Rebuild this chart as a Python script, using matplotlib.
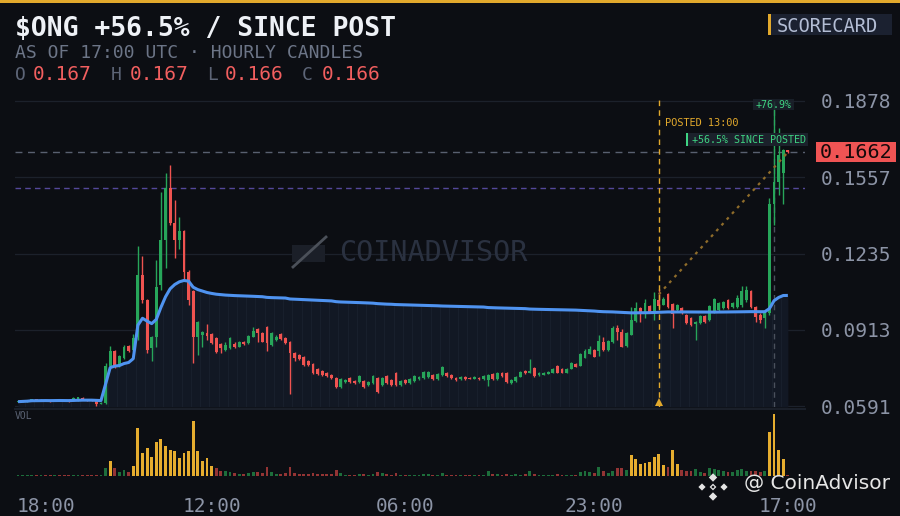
import numpy as np
import matplotlib.pyplot as plt
from matplotlib.patches import Rectangle, Polygon
from matplotlib import transforms

plt.rcParams['font.family'] = ['DejaVu Sans Mono']

# ---- data (hourly candles, index 0 = 18:00, last = 17:00) ----
ticker = "$ONG"
hour_labels = ["18:00", "12:00", "06:00", "23:00", "17:00"]
hour_ticks = [0, 42, 84, 125, 167]
price_labels = ["0.0591", "0.0913", "0.1235", "0.1557", "0.1878"]
post_idx = 139
post_time = "13:00"
post_price = 0.10618

opens = [
    .0608, .0610, .0612, .0613, .0619, .0614, .0617, .0613, .0611, .0618,
    .0614, .0613, .0611, .0617, .0624, .0619, .0616, .0613, .0600, .0605,
    .0758, .0821, .0760, .0794, .0845, .0828, .0883, .1144, .1039, .0836,
    .0883, .1100, .1292, .1510, .1362, .1292, .1330, .1158, .1077, .0884,
    .0890, .0901, .0895, .0878, .0853, .0828, .0836, .0853, .0840, .0862,
    .0855, .0884, .0916, .0899, .0926, .0849, .0868, .0895, .0878, .0862,
    .0815, .0807, .0798, .0781, .0769, .0748, .0739, .0731, .0722, .0710,
    .0672, .0693, .0710, .0697, .0693, .0697, .0680, .0689, .0710, .0680,
    .0718, .0701, .0731, .0680, .0701, .0689, .0697, .0705, .0710, .0714,
    .0722, .0705, .0722, .0731, .0722, .0710, .0705, .0714, .0710, .0705,
    .0710, .0705, .0701, .0727, .0705, .0731, .0731, .0689, .0697, .0714,
    .0739, .0731, .0752, .0722, .0722, .0727, .0731, .0760, .0748, .0731,
    .0748, .0769, .0760, .0794, .0811, .0828, .0824, .0860, .0826, .0862,
    .0921, .0905, .0845, .0891, .0950, .1005, .0984, .1013, .0988, .1039,
    .1018, .1064, .1022, .0997, .1005, .0976, .0963, .0937, .0942, .0971,
    .0954, .0988, .0997, .1005, .1039, .1009, .1009, .1018, .1039, .1077,
    .1009, .0976, .0963, .0984, .1444, .1536, .1574, .1670]
highs = [
    .0612, .0614, .0616, .0621, .0620, .0619, .0618, .0616, .0620, .0621,
    .0616, .0615, .0627, .0630, .0627, .0622, .0618, .0615, .0606, .0773,
    .0845, .0828, .0805, .0848, .0847, .0895, .1266, .1222, .1043, .0887,
    .1207, .1495, .1573, .1608, .1460, .1390, .1334, .1165, .1081, .0950,
    .0909, .0937, .0899, .0882, .0857, .0863, .0882, .0862, .0866, .0866,
    .0891, .0923, .0921, .0903, .0928, .0905, .0890, .0899, .0882, .0866,
    .0819, .0811, .0802, .0786, .0773, .0752, .0743, .0735, .0727, .0714,
    .0710, .0705, .0714, .0701, .0722, .0701, .0697, .0722, .0714, .0714,
    .0722, .0705, .0735, .0701, .0705, .0710, .0722, .0718, .0739, .0739,
    .0727, .0731, .0760, .0735, .0727, .0714, .0718, .0718, .0712, .0716,
    .0714, .0722, .0725, .0729, .0735, .0733, .0733, .0703, .0716, .0737,
    .0741, .0790, .0754, .0733, .0733, .0737, .0750, .0762, .0750, .0750,
    .0775, .0771, .0813, .0832, .0845, .0830, .0891, .0882, .0870, .0929,
    .0933, .0916, .0903, .1009, .1030, .1009, .1043, .1018, .1070, .1084,
    .1053, .1067, .1025, .1022, .1009, .0980, .0967, .0950, .0976, .0976,
    .1018, .1047, .1030, .1034, .1043, .1030, .1060, .1098, .1098, .1081,
    .1013, .0984, .0997, .1469, .1878, .1764, .1675, .1672]
lows = [
    .0606, .0608, .0609, .0611, .0612, .0612, .0611, .0609, .0610, .0612,
    .0610, .0609, .0610, .0614, .0615, .0612, .0611, .0591, .0598, .0600,
    .0752, .0752, .0756, .0790, .0819, .0824, .0870, .1026, .0815, .0781,
    .0842, .1081, .1172, .1355, .1215, .1254, .1127, .1018, .0773, .0807,
    .0839, .0868, .0853, .0815, .0815, .0824, .0832, .0836, .0838, .0849,
    .0851, .0882, .0863, .0859, .0825, .0845, .0866, .0870, .0853, .0642,
    .0781, .0786, .0760, .0760, .0727, .0722, .0718, .0714, .0705, .0668,
    .0668, .0689, .0689, .0685, .0689, .0668, .0676, .0685, .0646, .0676,
    .0685, .0676, .0676, .0676, .0685, .0685, .0693, .0701, .0705, .0710,
    .0701, .0701, .0718, .0714, .0705, .0697, .0701, .0701, .0703, .0703,
    .0701, .0701, .0676, .0701, .0701, .0714, .0689, .0685, .0693, .0712,
    .0727, .0729, .0714, .0718, .0720, .0725, .0729, .0729, .0729, .0729,
    .0746, .0754, .0758, .0792, .0809, .0796, .0802, .0824, .0824, .0857,
    .0870, .0838, .0842, .0889, .0946, .0946, .0963, .0984, .0954, .1005,
    .1016, .1004, .0919, .0992, .0978, .0938, .0929, .0870, .0938, .0942,
    .0950, .0984, .0992, .1001, .1001, .1005, .1005, .1009, .1030, .1005,
    .0946, .0942, .0921, .0976, .1355, .1482, .1444, .1660]
closes = [
    .0610, .0612, .0614, .0619, .0614, .0617, .0613, .0611, .0618, .0614,
    .0612, .0611, .0623, .0627, .0617, .0614, .0613, .0600, .0604, .0758,
    .0821, .0760, .0802, .0840, .0824, .0878, .1144, .1039, .0828, .0883,
    .1093, .1292, .1511, .1362, .1292, .1330, .1158, .1039, .0884, .0947,
    .0905, .0887, .0857, .0819, .0836, .0849, .0878, .0840, .0862, .0851,
    .0887, .0909, .0899, .0863, .0856, .0901, .0884, .0874, .0857, .0815,
    .0794, .0790, .0765, .0765, .0731, .0727, .0722, .0718, .0710, .0672,
    .0705, .0701, .0693, .0689, .0718, .0672, .0693, .0718, .0651, .0710,
    .0689, .0680, .0680, .0697, .0689, .0705, .0718, .0714, .0735, .0735,
    .0705, .0727, .0756, .0718, .0710, .0701, .0714, .0705, .0706, .0714,
    .0703, .0718, .0722, .0705, .0731, .0718, .0693, .0701, .0714, .0735,
    .0731, .0739, .0718, .0731, .0731, .0735, .0748, .0731, .0731, .0748,
    .0773, .0756, .0811, .0821, .0830, .0798, .0866, .0826, .0866, .0921,
    .0905, .0842, .0901, .0954, .1005, .0984, .1026, .0988, .1043, .1011,
    .1043, .1010, .0980, .1018, .0984, .0942, .0933, .0946, .0971, .0946,
    .1013, .1043, .1026, .1030, .1005, .1026, .1047, .1077, .1081, .1009,
    .0967, .0954, .0984, .1444, .1536, .1650, .1670, .1662]
volumes = [
    0.4, 0.3, 0.5, 0.6, 0.4, 0.3, 0.5, 0.4, 0.6, 0.4,
    0.3, 0.5, 0.7, 0.6, 0.4, 0.5, 0.4, 0.6, 0.5, 24,
    43, 22, 10, 16, 10, 29, 142, 67, 82, 55,
    100, 109, 88, 76, 73, 52, 67, 73, 163, 73,
    43, 52, 29, 22, 13, 13, 10, 7, 5, 5,
    7, 10, 10, 7, 25, 10, 5, 5, 7, 25,
    7, 5, 5, 5, 7, 5, 5, 5, 5, 16,
    7, 3, 3, 3, 5, 5, 3, 5, 10, 7,
    5, 3, 7, 3, 3, 3, 3, 3, 5, 5,
    3, 3, 7, 3, 3, 3, 3, 3, 3, 3,
    3, 3, 14, 5, 4, 3, 4, 3, 4, 3,
    4, 14, 5, 3, 3, 3, 3, 5, 3, 3,
    3, 3, 10, 14, 10, 9, 25, 14, 7, 13,
    23, 22, 16, 61, 49, 36, 39, 42, 55, 66,
    31, 26, 77, 36, 16, 13, 14, 19, 10, 7,
    22, 19, 16, 14, 10, 10, 16, 19, 14, 14,
    14, 10, 14, 131, 184, 77, 50, 2]

# ---- colours ----
BG = '#0c0e13'
FILL = '#121824'
GRID = '#1c212b'
UP = '#27a65a'
DOWN = '#ef5350'
VUP = '#1d6e3b'
VDOWN = '#943434'
VHOT = '#e6ad2f'
BLUE = '#4f93f0'
GOLD = '#e2a92c'
LABEL = '#8c94a6'
TEXTGREEN = '#3fd483'

o = np.array(opens)
h = np.array(highs)
l = np.array(lows)
c = np.array(closes)
v = np.array(volumes, dtype=float)
x = np.arange(len(c))
up = c >= o

W, H = 900, 516
fig = plt.figure(figsize=(9, 5.16), dpi=100, facecolor=BG)


def add_ax(x0, y0, x1, y1):
    a = fig.add_axes([x0 / W, 1 - y1 / H, (x1 - x0) / W, (y1 - y0) / H])
    a.set_facecolor(BG)
    for s in a.spines.values():
        s.set_visible(False)
    return a


def ftext(px, py, s, **kw):
    return fig.text(px / W, 1 - py / H, s, **kw)


def frect(x0, y0, x1, y1, color, **kw):
    r = Rectangle((x0 / W, 1 - y1 / H), (x1 - x0) / W, (y1 - y0) / H,
                  transform=fig.transFigure, color=color, lw=0, **kw)
    fig.add_artist(r)
    return r


def diamond(cx, cy, r, color):
    pts = [(cx, cy - r), (cx + r, cy), (cx, cy + r), (cx - r, cy)]
    pts = [(px / W, 1 - py / H) for px, py in pts]
    fig.add_artist(Polygon(pts, closed=True, transform=fig.transFigure,
                           color=color, lw=0))


lo, hi = l.min(), h.max()
ppx = 305 / (hi - lo)          # pixels per price unit
step = 4.61                    # pixels per candle
xl = (-3 / step, (805 - 18) / step)

ax = add_ax(15, 93, 805, 407)
axv = add_ax(15, 410, 805, 475.5)
ax.set_xlim(*xl)
ax.set_ylim(lo - 1 / ppx, hi + 8 / ppx)
axv.set_xlim(*xl)
axv.set_ylim(0, v.max() * 65.5 / 61.3)
ybot = lo - 1 / ppx

# ---- price panel ----
for t in np.linspace(lo, hi, 5):
    ax.axhline(t, color=GRID, lw=0.9, zorder=0.5)

tp = (h + l + c) / 3
vwap = np.cumsum(tp * v) / np.cumsum(v)
poly = ax.fill_between(x, vwap, ybot, color=FILL, lw=0, zorder=1)
vg = ax.vlines(x[1::2] + 0.5, ybot, hi, color='#19202d', lw=0.7, zorder=1.1)
vg.set_clip_path(poly.get_paths()[0], ax.transData)

prev_high = c[:post_idx].max()
ax.axhline(prev_high, color='#54489a', lw=1, ls=(0, (4, 3)), zorder=1.2)
ax.axhline(c[-1], color='#596070', lw=1, ls=(0, (5, 4)), zorder=1.2)

cols = np.where(up, UP, DOWN)
ax.vlines(x, l, h, colors=cols, lw=1.0, zorder=2)
ax.bar(x, np.maximum(np.abs(c - o), 0.45 / ppx), bottom=np.minimum(o, c),
       width=0.62, color=cols, lw=0, zorder=2.1)

ax.plot(x, vwap, color=BLUE, lw=2.2, zorder=4, solid_capstyle='butt')

# posted marker
ax.vlines(post_idx, ybot, hi + 1 / ppx, color=GOLD, lw=1, ls=(0, (4, 3)), zorder=3)
ax.plot(post_idx, lo + 4 / ppx, marker='^', color=GOLD, ms=6, mew=0, zorder=5,
        clip_on=False)
ax.plot([post_idx, x[-1]], [post_price, c[-1]], color='#8f6c2a', lw=1.6,
        ls=(0, (1.3, 2.2)), zorder=3)

peak = int(np.argmax(h))
ax.vlines(peak, ybot, h[peak], color='#4a505c', lw=1, ls=(0, (4, 3)), zorder=1.5)

ax.yaxis.tick_right()
ax.set_yticks(np.linspace(lo, hi, 5))
ax.set_yticklabels(price_labels)
ax.tick_params(axis='y', length=0, pad=11, labelsize=14, labelcolor=LABEL)
ax.tick_params(axis='x', bottom=False, labelbottom=False)


def data_px(xd, yd):
    dx, dy = ax.transData.transform((xd, yd))
    return dx, H - dy


# peak label
px, py = data_px(peak, hi)
peak_pct = (hi / post_price - 1) * 100
frect(px - 21, py - 2, px + 20, py + 9.5, '#1b212b', alpha=0.85, zorder=0.5)
ftext(px - 0.5, py + 4, f"+{peak_pct:.1f}%", fontsize=7.2, color=TEXTGREEN,
      ha='center', va='center')

# posted labels
qx, _ = data_px(post_idx, hi)
ftext(qx + 6, py + 22, f"POSTED {post_time}", fontsize=7.4, color=GOLD,
      ha='left', va='center')
pct = (c[-1] / post_price - 1) * 100
frect(qx + 27, py + 32, qx + 149, py + 45, '#1b212b')
frect(qx + 27, py + 32, qx + 29.5, py + 45, TEXTGREEN)
ftext(qx + 33, py + 38.7, f"+{pct:.1f}% SINCE POSTED", fontsize=7.2,
      color=TEXTGREEN, ha='left', va='center')

# current price tag
_, cy = data_px(0, c[-1])
frect(816, cy - 10, 896, cy + 10, '#f05454')
ftext(856, cy + 0.5, f"{c[-1]:.4f}", fontsize=14.5, color='#15090a',
      ha='center', va='center')

# ---- volume panel ----
vcols = np.where(v >= 27, VHOT, np.where(up, VUP, VDOWN))
axv.bar(x, np.maximum(v, 2.2), width=0.62, color=vcols, lw=0)
axv.set_xticks([])
axv.set_yticks([])
ftext(15, 416, "VOL", fontsize=7, color='#5c6475', va='center')
fig.add_artist(plt.Line2D([15 / W, 805 / W], [1 - 408.5 / H] * 2,
                          transform=fig.transFigure, color='#1a1f29', lw=1.5))

bt = transforms.blended_transform_factory(axv.transData, fig.transFigure)
for i, (tk, lab) in enumerate(zip(hour_ticks, hour_labels)):
    axv.text(tk - (0.4 if i == 0 else 0), 1 - 515.5 / H, lab, transform=bt,
             fontsize=14, color=LABEL, ha='left' if i == 0 else 'center',
             va='bottom', clip_on=False)

# ---- header ----
frect(0, 0, W, 2.5, GOLD)
ftext(15, 36, f"{ticker} +{pct:.1f}% / SINCE POST", fontsize=19,
      fontweight='bold', color='#eef1f6', va='baseline')
ftext(15, 58, f"AS OF {hour_labels[-1]} UTC \u00b7 HOURLY CANDLES", fontsize=13,
      color='#6c7587', va='baseline')
for (lx, vx, lab, val) in [(15, 33, "O", o[-1]), (111, 130, "H", h[-1]),
                           (207, 225, "L", l[-1]), (302, 322, "C", c[-1])]:
    ftext(lx, 80, lab, fontsize=13, color='#5d6577', va='baseline')
    ftext(vx, 80, f"{val:.3f}", fontsize=14, color='#f25f5f', va='baseline')

frect(768, 14, 892, 35, '#1b2130')
frect(768, 14, 771, 35, GOLD)
ftext(777, 31.5, "SCORECARD", fontsize=13.5, color='#b3bdd4', va='baseline')

# ---- watermarks ----
frect(292, 245, 325, 262, '#1b1f28')
fig.add_artist(plt.Line2D([293 / W, 326 / W], [1 - 267 / H, 1 - 237 / H],
                          transform=fig.transFigure, color='#4b5059', lw=2))
ftext(339, 253, "COINADVISOR", fontsize=20.5, color='#2a3140', va='center')

for cxp, cyp, r in [(713, 477.5, 4.2), (702, 487, 3.6), (724, 487, 3.6),
                    (713, 487, 3.4), (713, 496.5, 4.2)]:
    diamond(cxp, cyp, r, '#e4e4e4')
diamond(713, 487, 1.6, BG)
ftext(890, 489, "@ CoinAdvisor", fontsize=14.5, color='#e6e6e6', ha='right',
      va='baseline', family=['DejaVu Sans'])

fig.savefig('out.png', dpi=100, facecolor=BG)
